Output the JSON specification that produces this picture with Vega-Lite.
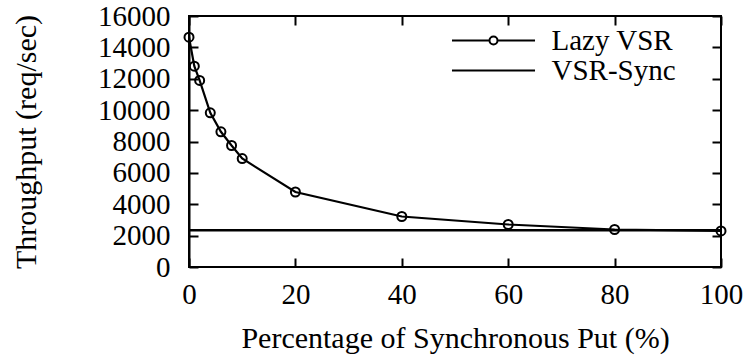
{
  "$schema": "https://vega.github.io/schema/vega-lite/v6.json",
  "width": 532,
  "height": 251,
  "autosize": "none",
  "padding": {"left": 189, "top": 16, "right": 30, "bottom": 97},
  "background": "white",
  "data": {
    "values": [
      {"series": "Lazy VSR", "pct": 0, "throughput": 14650},
      {"series": "Lazy VSR", "pct": 1, "throughput": 12800},
      {"series": "Lazy VSR", "pct": 2, "throughput": 11890},
      {"series": "Lazy VSR", "pct": 4, "throughput": 9830},
      {"series": "Lazy VSR", "pct": 6, "throughput": 8620},
      {"series": "Lazy VSR", "pct": 8, "throughput": 7745},
      {"series": "Lazy VSR", "pct": 10, "throughput": 6915},
      {"series": "Lazy VSR", "pct": 20, "throughput": 4780},
      {"series": "Lazy VSR", "pct": 40, "throughput": 3220},
      {"series": "Lazy VSR", "pct": 60, "throughput": 2710},
      {"series": "Lazy VSR", "pct": 80, "throughput": 2390},
      {"series": "Lazy VSR", "pct": 100, "throughput": 2300},
      {"series": "VSR-Sync", "pct": 0, "throughput": 2350},
      {"series": "VSR-Sync", "pct": 100, "throughput": 2350}
    ]
  },
  "config": {
    "font": "Liberation Serif",
    "view": {"stroke": "black", "strokeWidth": 2},
    "axis": {
      "labelFlush": false,
      "labelOverlap": false,
      "labelFont": "Liberation Serif",
      "labelFontSize": 29,
      "labelColor": "black",
      "titleFont": "Liberation Serif",
      "titleFontSize": 30,
      "titleFontWeight": "normal",
      "titleColor": "black"
    },
    "legend": {
      "orient": "none",
      "legendX": 290,
      "legendY": 10,
      "padding": 0,
      "symbolSize": 256,
      "symbolStrokeColor": "black",
      "symbolStrokeWidth": 2,
      "symbolFillColor": "transparent",
      "symbolOpacity": 1,
      "labelFont": "Liberation Serif",
      "labelFontSize": 29,
      "labelColor": "black",
      "labelOffset": 43.5,
      "rowPadding": -1.5,
      "labelLimit": 400
    }
  },
  "layer": [
    {
      "transform": [{"filter": "datum.series === 'VSR-Sync'"}],
      "mark": {"type": "line", "color": "black", "strokeWidth": 2.5},
      "encoding": {
        "x": {"field": "pct", "type": "quantitative", "scale": {"domain": [0, 100], "nice": false},
              "axis": {"orient": "bottom", "values": [0, 20, 40, 60, 80, 100], "grid": false, "domain": false, "title": "Percentage of Synchronous Put (%)", "tickSize": -9, "tickWidth": 2, "tickColor": "black", "labelPadding": 22, "titlePadding": 14}},
        "y": {"field": "throughput", "type": "quantitative", "scale": {"domain": [0, 16000], "nice": false},
              "axis": {"orient": "left", "values": [0, 2000, 4000, 6000, 8000, 10000, 12000, 14000, 16000], "grid": false, "domain": true, "domainColor": "black", "domainWidth": 2, "title": "Throughput (req/sec)", "tickSize": -9, "tickWidth": 2, "tickColor": "black", "labelPadding": 28, "titlePadding": 56, "format": "d"}}
      }
    },
    {
      "transform": [{"filter": "datum.series === 'Lazy VSR'"}],
      "mark": {"type": "line", "color": "black", "strokeWidth": 2.2},
      "encoding": {
        "x": {"field": "pct", "type": "quantitative", "scale": {"domain": [0, 100], "nice": false},
              "axis": {"orient": "top", "values": [0, 20, 40, 60, 80, 100], "grid": false, "domain": false, "labels": false, "title": null, "tickSize": -9, "tickWidth": 2, "tickColor": "black"}},
        "y": {"field": "throughput", "type": "quantitative", "scale": {"domain": [0, 16000], "nice": false},
              "axis": {"orient": "right", "values": [0, 2000, 4000, 6000, 8000, 10000, 12000, 14000, 16000], "grid": false, "domain": false, "labels": false, "title": null, "tickSize": -9, "tickWidth": 2, "tickColor": "black"}}
      }
    },
    {
      "transform": [{"filter": "datum.series === 'Lazy VSR'"}],
      "mark": {"type": "point", "shape": "circle", "filled": false, "color": "black", "size": 81, "strokeWidth": 2, "opacity": 1},
      "encoding": {
        "x": {"field": "pct", "type": "quantitative", "scale": {"domain": [0, 100], "nice": false}, "axis": null},
        "y": {"field": "throughput", "type": "quantitative", "scale": {"domain": [0, 16000], "nice": false}, "axis": null}
      }
    },
    {
      "mark": {"type": "point", "filled": false, "color": "black", "opacity": 0},
      "encoding": {
        "x": {"field": "pct", "type": "quantitative", "scale": {"domain": [0, 100], "nice": false}, "axis": null},
        "y": {"field": "throughput", "type": "quantitative", "scale": {"domain": [0, 16000], "nice": false}, "axis": null},
        "shape": {
          "field": "series",
          "type": "nominal",
          "scale": {
            "domain": ["Lazy VSR", "VSR-Sync"],
            "range": [
              "M-5.19,0H-0.5M0.5,0H5.19M-0.5,0A0.5,0.5,0,1,0,0.5,0A0.5,0.5,0,1,0,-0.5,0",
              "M-5.19,0H5.19"
            ]
          },
          "legend": {"title": null}
        }
      }
    }
  ],
  "resolve": {"axis": {"x": "independent", "y": "independent"}}
}
